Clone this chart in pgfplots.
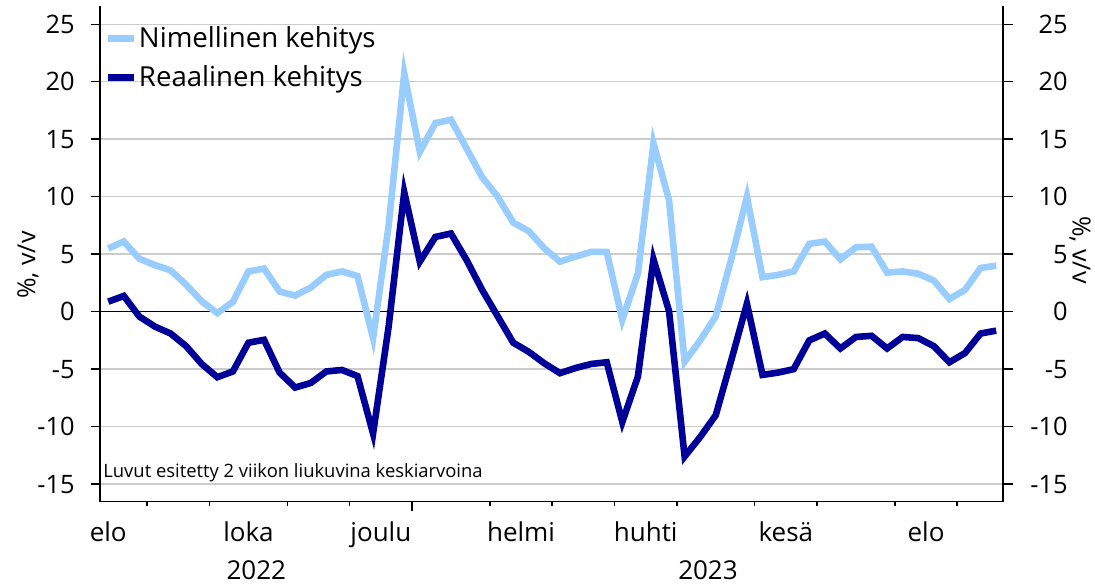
\documentclass[border=0pt]{standalone}
\usepackage{fontspec}
\setmainfont{Open Sans}
\usepackage{pgfplots}
\usepackage{pgfplotstable}
\pgfplotsset{compat=1.18}
\definecolor{nimc}{HTML}{99CCFF}
\definecolor{reac}{HTML}{000099}
\definecolor{gridc}{HTML}{CCCCCC}

\pgfplotstableread{
k nim rea
0 5.5 0.87
1 6.1 1.37
2 4.6 -0.43
3 4.05 -1.3
4 3.6 -1.9
5 2.35 -3.0
6 0.9 -4.55
7 -0.12 -5.7
8 0.85 -5.2
9 3.5 -2.7
10 3.75 -2.45
11 1.75 -5.3
12 1.4 -6.6
13 2.1 -6.2
14 3.2 -5.2
15 3.5 -5.07
16 3.1 -5.6
17 -2.3 -10.6
18 7.5 -1.3
19 20.7 10.4
20 13.9 4.35
21 16.4 6.5
22 16.7 6.8
23 14.2 4.5
24 11.7 1.9
25 10.0 -0.4
26 7.75 -2.7
27 7.0 -3.5
28 5.5 -4.5
29 4.35 -5.35
30 4.8 -4.9
31 5.2 -4.55
32 5.2 -4.4
33 -0.7 -9.6
34 3.3 -5.65
35 14.65 4.55
36 9.7 0.05
37 -4.35 -12.6
38 -2.5 -10.9
39 -0.4 -9.0
40 4.6 -4.2
41 10.0 0.7
42 3.0 -5.5
43 3.2 -5.3
44 3.5 -5.0
45 5.9 -2.5
46 6.1 -1.9
47 4.55 -3.2
48 5.6 -2.2
49 5.65 -2.1
50 3.4 -3.2
51 3.5 -2.2
52 3.3 -2.3
53 2.7 -3.0
54 1.1 -4.4
55 1.9 -3.6
56 3.8 -1.9
57 4.0 -1.65
}\datatable

\begin{document}
\begin{tikzpicture}
\useasboundingbox (-50pt,-41.15pt) rectangle (497.5pt,250.85pt);
\begin{axis}[
 name=main, at={(0,0)}, anchor=south west,
 scale only axis, width=451.5pt, height=247.85pt,
 xmin=-0.53, xmax=57.44, ymin=-16.53, ymax=26.59,
 axis x line*=bottom, axis y line*=left,
 axis line style={-, black, line width=0.75pt},
 tick align=outside,
 major tick length=4.5pt, minor tick length=2pt,
 tick style={black, line width=0.75pt},
 xtick={19.5}, xticklabels={},
 minor xtick={2.5,6.5,11.5,15.5,24.5,28.5,32.5,36.5,41.5,45.5,50.5,54.5},
 ytick={-15,-10,...,25},
 ymajorgrids, grid style={gridc, line width=0.75pt},
 yticklabel style={font=\fontsize{12.7}{14}\selectfont, anchor=east, inner sep=0pt, xshift=-8pt},
 /pgf/number format/assume math mode=true,
 clip=false,
 legend cell align=left,
 legend image code/.code={\draw[#1, line width=3.5pt] (0pt,0pt) -- (13pt,0pt);},
 legend style={draw=none, fill=none, at={(axis description cs:0.0044,0.962)}, anchor=north west,
   inner sep=0pt, row sep=6pt, font=\fontsize{13.8}{16}\selectfont,
   nodes={inner sep=0.8pt}},
]
\addplot[black, line width=0.75pt, forget plot] coordinates {(-0.53,0) (57.44,0)};
\addplot[nimc, line width=3.3pt] table[x=k, y=nim]{\datatable};
\addlegendentry{Nimellinen kehitys}
\addplot[reac, line width=3.3pt] table[x=k, y=rea]{\datatable};
\addlegendentry{Reaalinen kehitys}

\begin{scope}[every node/.style={font=\fontsize{13}{15}\selectfont, anchor=base, inner sep=0pt}]
\node at (axis cs:0,-19.95) {elo};
\node at (axis cs:9,-19.95) {loka};
\node at (axis cs:17.5,-19.95) {joulu};
\node at (axis cs:26.5,-19.95) {helmi};
\node at (axis cs:34.5,-19.95) {huhti};
\node at (axis cs:43.5,-19.95) {kesä};
\node at (axis cs:52.5,-19.95) {elo};
\node at (axis cs:9.5,-23.34) {2022};
\node at (axis cs:38.5,-23.34) {2023};
\end{scope}
\end{axis}

\begin{axis}[
 at={(0,0)}, anchor=south west,
 scale only axis, width=451.5pt, height=247.85pt,
 xmin=-0.53, xmax=57.44, ymin=-16.53, ymax=26.59,
 hide x axis, axis y line*=right,
 axis line style={-, black, line width=0.75pt},
 tick align=outside, major tick length=5pt,
 tick style={black, line width=0.75pt},
 ytick={-15,-10,...,25},
 yticklabel style={font=\fontsize{12.7}{14}\selectfont, anchor=east, inner sep=0pt, xshift=27.5pt},
 /pgf/number format/assume math mode=true,
]
\addplot[draw=none, forget plot] coordinates {(0,0)};
\end{axis}

\node[anchor=base west, inner sep=0pt, font=\fontsize{9.2}{11}\selectfont] at (1.5pt,12.35pt) {Luvut esitetty 2 viikon liukuvina keskiarvoina};
\node[rotate=90, inner sep=0pt, font=\fontsize{12.5}{14}\selectfont] at (-36pt,118.35pt) {\%, v/v};
\node[rotate=-90, inner sep=0pt, font=\fontsize{12.5}{14}\selectfont] at (490pt,125.85pt) {\%, v/v};
\end{tikzpicture}
\end{document}
